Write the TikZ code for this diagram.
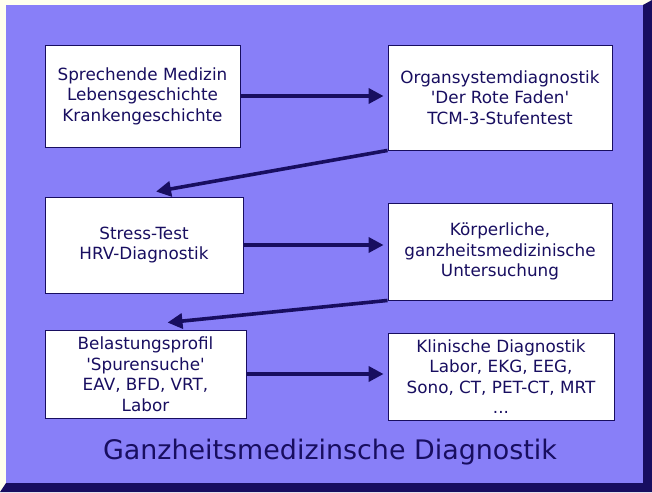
\documentclass[tikz,border=0pt]{standalone}
\usepackage{fontspec}
\setmainfont{DejaVu Sans}
\usetikzlibrary{positioning,arrows.meta}
\definecolor{lila}{RGB}{136,127,248}
\definecolor{marine}{RGB}{24,14,96}
\definecolor{creme}{RGB}{255,255,238}
\tikzstyle{kasten} = [rectangle, fill=white, draw=marine, line width=0.9pt, text=marine, align=center, inner sep=2pt, font=\fontsize{16.8}{20.5}\selectfont]
\tikzstyle{pfeil} = [line width=3.6pt, draw=marine, -{Triangle[length=15pt,width=15pt]}]
\newcommand{\hk}{\textquotesingle}

\begin{document}
\begin{tikzpicture}[x=1pt,y=-1pt]
\useasboundingbox (0,0) rectangle (652,492);
\fill[creme] (0,0) rectangle (652,492);
\fill[marine] (0,492) -- (652,492) -- (652,0) -- (643,5) -- (643,483) -- (6,483) -- cycle;
\fill[lila] (6,5) rectangle (643,483);
\node (sprechend) [kasten, minimum width=195pt, minimum height=102pt] at (142.5,96) {Sprechende Medizin\\Lebensgeschichte\\Krankengeschichte};
\node (organ) [kasten, minimum width=224pt, minimum height=105pt] at (500,97.5) {Organsystemdiagnostik\\\hk Der Rote Faden\hk\\TCM-3-Stufentest};
\node (stress) [kasten, minimum width=198pt, minimum height=96pt] at (144,245) {Stress-Test\\HRV-Diagnostik};
\node (koerper) [kasten, minimum width=224pt, minimum height=97pt] at (500,251.5) {Körperliche,\\ganzheitsmedizinische\\Untersuchung};
\node (belastung) [kasten, minimum width=201pt, minimum height=88pt] at (145.5,374) {Belastungsprofil\\\hk Spurensuche\hk\\EAV, BFD, VRT,\\Labor};
\node (klinik) [kasten, minimum width=226pt, minimum height=87pt] at (501,376.5) {Klinische Diagnostik\\Labor, EKG, EEG,\\Sono, CT, PET-CT, MRT\\...};
\node (titel) [text=marine, font=\fontsize{26.9}{32}\selectfont] at (330,452) {Ganzheitsmedizinsche Diagnostik};
\draw [pfeil] (sprechend.east) -- ([xshift=-4pt]organ.west |- sprechend.east);
\draw [pfeil] (organ.south west) -- ([xshift=12pt,yshift=5pt]stress.north);
\draw [pfeil] (stress.east) -- ([xshift=-4pt]koerper.west |- stress.east);
\draw [pfeil] (koerper.south west) -- ([xshift=22pt,yshift=7pt]belastung.north);
\draw [pfeil] (belastung.east) -- ([xshift=-4pt]klinik.west |- belastung.east);
\end{tikzpicture}
\end{document}
